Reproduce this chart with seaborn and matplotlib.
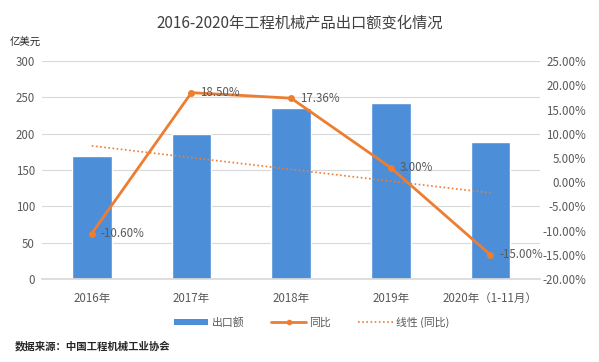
import numpy as np
import pandas as pd
import matplotlib
matplotlib.use("Agg")
import matplotlib.pyplot as plt
import seaborn as sns
from matplotlib.lines import Line2D
from matplotlib.patches import Patch

# data
years = ["2016年", "2017年", "2018年", "2019年", "2020年（1-11月）"]
export_value = [170, 200, 235, 243, 189]          # 亿美元
yoy_pct = [-10.60, 18.50, 17.36, 3.00, -15.00]    # 同比 %

BLUE = "#4C8FD8"
ORANGE = "#ED7D31"
TXT = "#595959"

sns.set_theme(style="white")
plt.rcParams["font.family"] = ["Noto Sans CJK SC", "DejaVu Sans"]

fig = plt.figure(figsize=(5.99, 3.62), dpi=100)
ax = fig.add_axes([0.070, 0.229, 0.832, 0.602])

df = pd.DataFrame({"year": years, "value": export_value, "yoy": yoy_pct})
sns.barplot(data=df, x="year", y="value", color=BLUE, width=0.4,
            saturation=1, ax=ax, zorder=2)
ax.set_ylim(0, 300)
ax.set_yticks(range(0, 301, 50))
ax.set_xlim(-0.5, 4.5)
ax.set_xlabel("")
ax.set_ylabel("")
ax.grid(axis="y", color="#D9D9D9", linewidth=0.8, zorder=0)
ax.set_axisbelow(True)
for s in ["top", "right", "left"]:
    ax.spines[s].set_visible(False)
ax.spines["bottom"].set_color("#D9D9D9")
ax.tick_params(axis="y", length=0, pad=5, labelsize=8.3, labelcolor=TXT)
ax.tick_params(axis="x", length=0, pad=9, labelsize=8.3, labelcolor=TXT)

# right axis: yoy line
ax2 = ax.twinx()
xpos = np.arange(len(years))
sns.lineplot(x=xpos, y=yoy_pct, ax=ax2, color=ORANGE, linewidth=2,
             marker="o", markersize=5, markeredgewidth=0, zorder=4)
# linear trend of yoy
k, b = np.polyfit(xpos, yoy_pct, 1)
ax2.plot(xpos, k * xpos + b, linestyle=(0, (1, 1.5)), color=ORANGE,
         linewidth=1.2, zorder=3)
ax2.set_ylim(-20, 25)
ax2.set_yticks(range(-20, 26, 5))
ax2.set_yticklabels([f"{v:.2f}%" for v in range(-20, 26, 5)])
for lbl in ax2.get_yticklabels():
    lbl.set_ha("right")
ax2.tick_params(axis="y", length=0, pad=33, labelsize=8.3, labelcolor=TXT)
for s in ax2.spines.values():
    s.set_visible(False)
ax2.grid(False)

for x, v in zip(xpos, yoy_pct):
    ax2.text(x + 0.09, v, f"{v:.2f}%", ha="left", va="center",
             fontsize=8.3, color=TXT, zorder=5)

fig.text(0.5, 0.935, "2016-2020年工程机械产品出口额变化情况",
         ha="center", va="center", fontsize=11, color="#404040")
fig.text(0.017, 0.883, "亿美元", ha="left", va="center", fontsize=7.5,
         color="#262626")

handles = [
    Patch(facecolor=BLUE, edgecolor="none"),
    Line2D([], [], color=ORANGE, linewidth=2, marker="o", markersize=4,
           markeredgewidth=0),
    Line2D([], [], color=ORANGE, linewidth=1.2, linestyle=(0, (1, 1.5))),
]
fig.legend(handles, ["出口额", "同比", "线性 (同比)"], loc="center",
           bbox_to_anchor=(0.52, 0.11), ncol=3, frameon=False,
           fontsize=7.8, labelcolor=TXT, handlelength=3.2,
           handleheight=0.5, columnspacing=2.5, handletextpad=0.3)

fig.text(0.025, 0.045, "数据来源：中国工程机械工业协会", ha="left",
         va="center", fontsize=7.5, color="#262626", fontweight="bold")

fig.savefig("out.png", dpi=100)
